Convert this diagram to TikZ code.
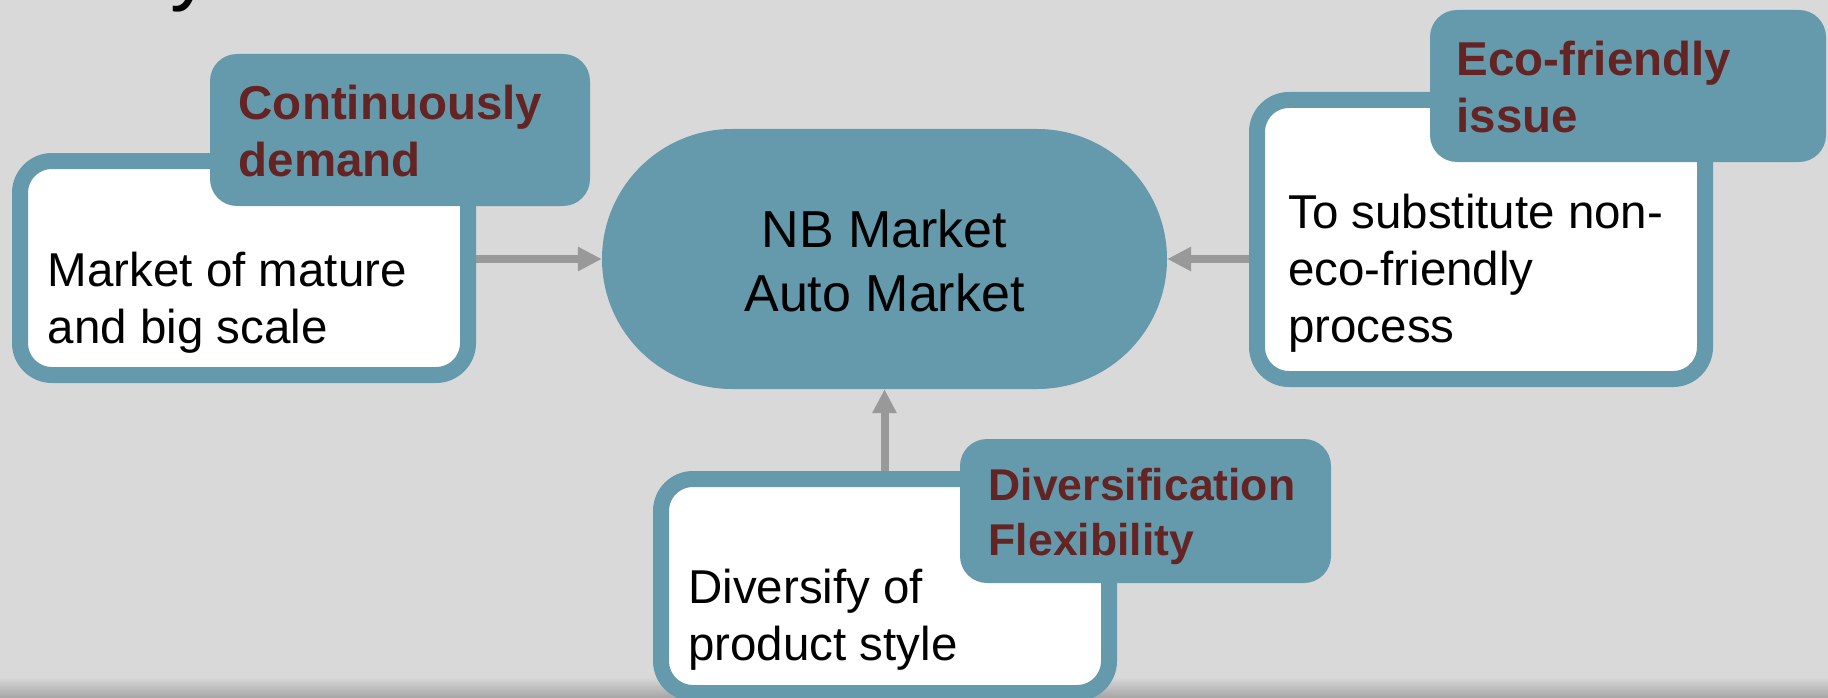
\documentclass[tikz,border=0pt]{standalone}
\usepackage{fontspec}
\setmainfont{Liberation Sans}
\usetikzlibrary{arrows.meta}
\definecolor{bg}{RGB}{217,217,217}
\definecolor{tealbox}{RGB}{100,154,172}
\definecolor{tagred}{RGB}{99,36,35}
\definecolor{arrowgray}{RGB}{153,153,153}
\definecolor{shadegray}{RGB}{165,165,165}
\begin{document}
\begin{tikzpicture}[x=1pt,y={(0,-1pt)},
  bodybox/.style={draw=tealbox, line width=16pt, fill=white, rounded corners=32pt, inner sep=0pt, minimum width=448pt},
  tagbox/.style={fill=tealbox, rounded corners=27pt, inner sep=0pt},
  hubshape/.style={fill=tealbox, rounded corners=130pt, inner sep=0pt, minimum width=565pt, minimum height=260pt},
  bodytext/.style={anchor=base west, inner sep=0pt, font=\fontsize{47.5}{57}\selectfont},
  tagtext/.style={anchor=base west, inner sep=0pt, text=tagred, font=\fontsize{47.5}{57}\selectfont\bfseries},
  link/.style={draw=arrowgray, line width=8pt, -{Triangle[length=24pt,width=23pt]}}
]
\useasboundingbox (0,0) rectangle (1828,698);
\clip (0,0) rectangle (1828,698);
\fill[bg] (0,0) rectangle (1828,698);
\shade[top color=bg, bottom color=shadegray] (0,677) rectangle (1828,698);

% cropped title letter
\node[anchor=base west, inner sep=0pt, font=\fontsize{85}{100}\selectfont] (ttl) at (170,-5) {y};

% body boxes
\node[bodybox, minimum height=214pt] (box1) at (244,268) {};
\node[bodybox, minimum height=279pt] (box2) at (1481,239.5) {};
\node[bodybox, minimum height=214pt] (box3) at (885,586) {};

% tag boxes
\node[tagbox, minimum width=380pt, minimum height=152pt] (tag1) at (400,130) {};
\node[tagbox, minimum width=396pt, minimum height=152pt] (tag2) at (1628,86) {};
\node[tagbox, minimum width=371pt, minimum height=144pt] (tag3) at (1145.5,511) {};

% central node
\node[hubshape] (hub) at (884.5,259) {};
\node[anchor=base, inner sep=0pt, font=\fontsize{52}{64}\selectfont] (hubtext) at (884.5,247)
  {\parbox[t]{520pt}{\centering NB Market\\Auto Market}};

% texts
\node[tagtext] (tag1text) at (238.5,120) {\parbox[t]{360pt}{\raggedright Continuously\\demand}};
\node[tagtext] (tag2text) at (1456.5,76) {\parbox[t]{360pt}{\raggedright Eco-friendly\\issue}};
\node[tagtext, font=\fontsize{44.5}{55}\selectfont\bfseries] (tag3text) at (988.5,500) {\parbox[t]{360pt}{\raggedright Diversification\\Flexibility}};

\node[bodytext] (box1text) at (47.5,286) {\parbox[t]{420pt}{\raggedright Market of mature\\and big scale}};
\node[bodytext] (box2text) at (1288,228) {\parbox[t]{420pt}{\raggedright To substitute non-\\eco-friendly\\process}};
\node[bodytext] (box3text) at (688,603) {\parbox[t]{420pt}{\raggedright Diversify of\\product style}};

% connectors
\draw[link] (box1.east |- hub.west) -- (hub.west);
\draw[link] (box2.west |- hub.east) -- (hub.east);
\draw[link] (hub.south |- box3.north) -- (hub.south);
\end{tikzpicture}
\end{document}
